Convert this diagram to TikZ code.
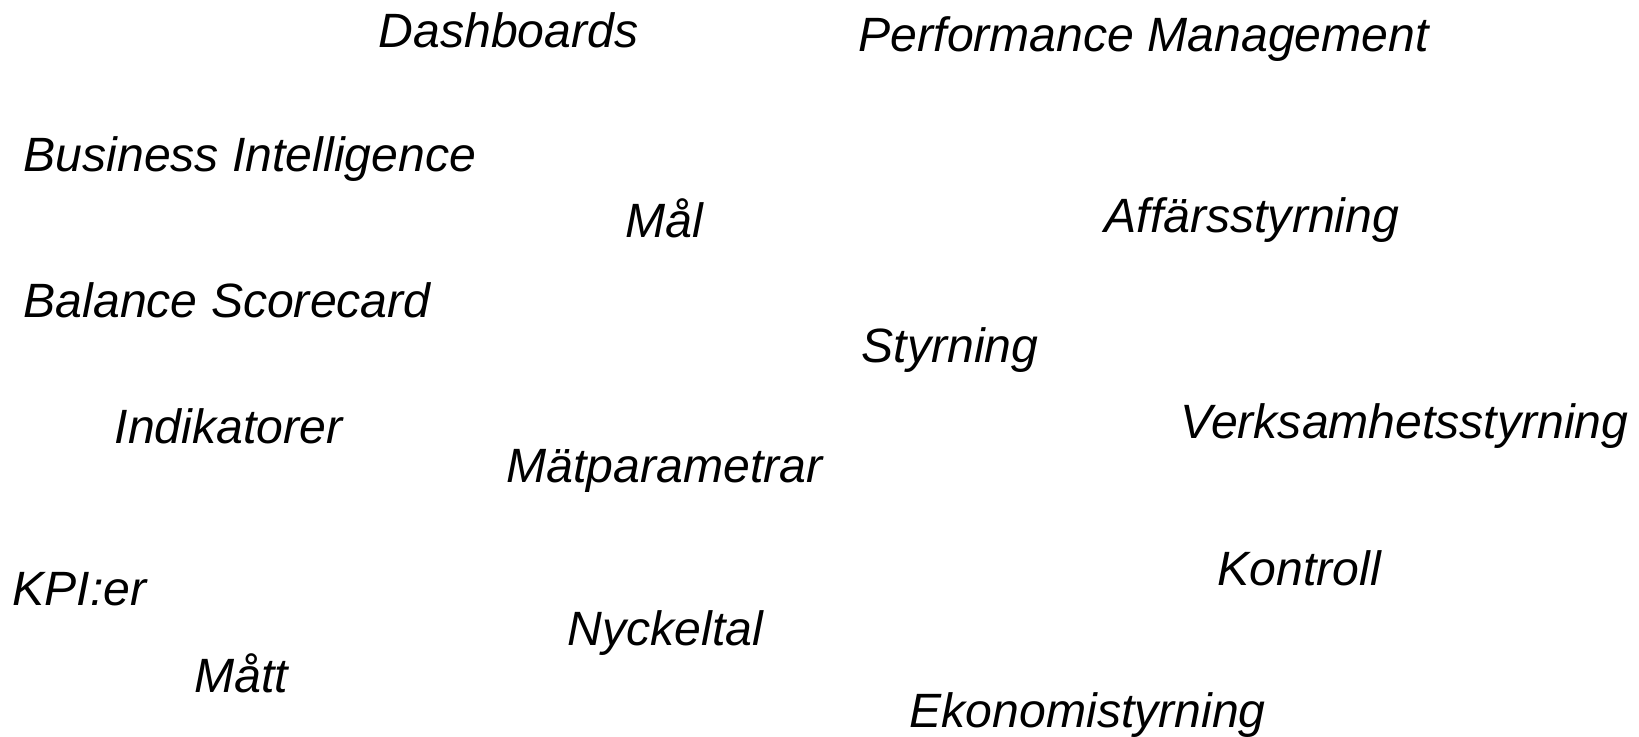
\documentclass[tikz,border=0pt]{standalone}
\usepackage{fontspec}
\setmainfont{Liberation Sans}
\begin{document}
\begin{tikzpicture}[
    % Style des mots
    mot/.style={anchor=base west, inner sep=0pt, font=\fontsize{13.7}{16}\selectfont\itshape, color=black}
]
\useasboundingbox (0,0) rectangle (16.39,7.37);

% ==========================================
% HAUT
% ==========================================
\node[mot] (dashboards) at (3.78, 6.89) {Dashboards};
\node[mot] (perfmgmt) at (8.58, 6.85) {Performance Management};
\node[mot] (bi) at (0.23, 5.65) {Business Intelligence};
\node[mot] (mal) at (6.25, 4.99) {Mål};
\node[mot] (affar) at (11.04, 5.04) {Affärsstyrning};

% ==========================================
% MILIEU
% ==========================================
\node[mot] (bsc) at (0.23, 4.19) {Balance Scorecard};
\node[mot] (styrning) at (8.61, 3.74) {Styrning};
\node[mot] (indikatorer) at (1.14, 2.93) {Indikatorer};
\node[mot] (verksamhet) at (11.80, 2.98) {Verksamhetsstyrning};
\node[mot] (matparam) at (5.06, 2.54) {Mätparametrar};

% ==========================================
% BAS
% ==========================================
\node[mot] (kontroll) at (12.17, 1.51) {Kontroll};
\node[mot] (kpier) at (0.12, 1.31) {KPI:er};
\node[mot] (nyckeltal) at (5.67, 0.91) {Nyckeltal};
\node[mot] (matt) at (1.94, 0.44) {Mått};
\node[mot] (ekonomi) at (9.09, 0.09) {Ekonomistyrning};

\end{tikzpicture}
\end{document}
